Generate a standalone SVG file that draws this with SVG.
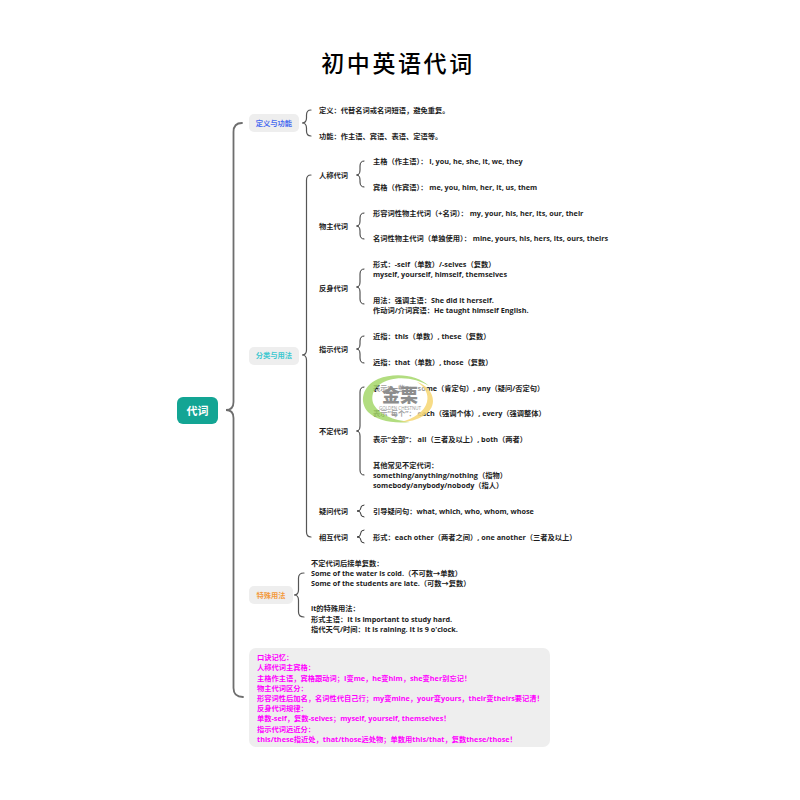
<svg xmlns="http://www.w3.org/2000/svg" width="800" height="800" viewBox="0 0 800 800">
<style>
text{font-family:"Open Sans","Noto Sans CJK SC",sans-serif;font-size:7.250px;font-weight:700;fill:#1c1c1c}
.cjk{font-family:"Noto Sans CJK SC",sans-serif}
.title{font-family:"Liberation Serif","Noto Sans CJK SC",serif;font-size:23px;font-weight:500;fill:#000;letter-spacing:2.6px;text-anchor:middle}
.mid{text-anchor:middle}
.root{font-size:11px;fill:#fff;text-anchor:middle}
.memo{fill:#f0f}
.pill{fill:#eeeeee}
.b{fill:none;stroke:#333;stroke-width:1;stroke-linecap:round}
.trunk{fill:none;stroke:#6e6e6e;stroke-width:1.800;stroke-linecap:round}
.mid2{fill:none;stroke:#555;stroke-width:1.200;stroke-linecap:round}
</style>
<rect width="800" height="800" fill="#fff"/>
<text class="title" x="398" y="72">初中英语代词</text>
<g id="connectors">
<path class="trunk" d="M242 123Q233.500 123 233.500 132V402Q233.500 410 226 410Q233.500 410 233.500 418V688Q233.500 697 243 697"/>
<path class="mid2" d="M311 110Q306.500 110 306.500 115V118Q306.500 123 302 123Q306.500 123 306.500 128V131Q306.500 136 311 136"/>
<path class="mid2" d="M311 175Q306.500 175 306.500 180V350Q306.500 355 302 355Q306.500 355 306.500 360V532Q306.500 537 311 537"/>
<path class="mid2" d="M304 573Q298.500 573 298.500 578V590Q298.500 595 294 595Q298.500 595 298.500 600V612Q298.500 617 304 617"/>
<path class="b" d="M364 161Q360 161 360 166V170Q360 175 356.500 175Q360 175 360 180V182Q360 187 364 187"/>
<path class="b" d="M364 213Q360 213 360 218V221Q360 226 356.500 226Q360 226 360 231V234Q360 239 364 239"/>
<path class="b" d="M364 269Q360 269 360 274V282Q360 287 356.500 287Q360 287 360 292V299Q360 304 364 304"/>
<path class="b" d="M364 336Q360 336 360 341V344Q360 349 356.500 349Q360 349 360 354V358Q360 363 364 363"/>
<path class="b" d="M364 387Q360 387 360 392V426Q360 431 356.500 431Q360 431 360 436V470Q360 475 364 475"/>
<path class="b" d="M364 505Q360.500 505 360.500 509Q360.500 511 357 511Q360.500 511 360.500 513Q360.500 517 364 517"/>
<path class="b" d="M364 530Q360.500 530 360.500 534Q360.500 537 357 537Q360.500 537 360.500 539Q360.500 543 364 543"/>
</g>
<g id="root"><rect x="177" y="397" width="41" height="27" rx="6" fill="#13a594"/><text class="root" x="197.500" y="415">代词</text></g>
<g id="n-def"><rect class="pill" x="249" y="114" width="50" height="18" rx="5"/><text class="mid" x="274" y="126" style="fill:#4a6cf0">定义与功能</text></g>
<g id="n-class"><rect class="pill" x="249" y="347" width="50" height="18" rx="5"/><text class="mid" x="274" y="358" style="fill:#3cc8d0">分类与用法</text></g>
<g id="n-special"><rect class="pill" x="249" y="586" width="44" height="18" rx="5"/><text class="mid" x="271" y="598" style="fill:#f39a3c">特殊用法</text></g>
<g id="n-defs"><text x="319" y="113">定义：代替名词或名词短语，避免重复。</text><text x="319" y="139">功能：作主语、宾语、表语、定语等。</text></g>
<g id="n-person"><text x="319" y="177.500">人称代词</text><text x="373" y="164">主格（作主语）： I, you, he, she, it, we, they</text><text x="373" y="190">宾格（作宾语）： me, you, him, her, it, us, them</text></g>
<g id="n-poss"><text x="319" y="229">物主代词</text><text x="373" y="215.500">形容词性物主代词（+名词）： my, your, his, her, its, our, their</text><text x="373" y="241">名词性物主代词（单独使用）： mine, yours, his, hers, its, ours, theirs</text></g>
<g id="n-refl"><text x="319" y="290.500">反身代词</text><text x="373" y="267">形式：-self（单数）/-selves（复数）</text><text x="373" y="277">myself, yourself, himself, themselves</text><text x="373" y="302.500">用法：强调主语：She did it herself.</text><text x="373" y="313">作动词/介词宾语：He taught himself English.</text></g>
<g id="n-demo"><text x="319" y="351.500">指示代词</text><text x="373" y="338.500">近指：this（单数）, these（复数）</text><text x="373" y="364.500">远指：that（单数）, those（复数）</text></g>
<g id="n-indef"><text x="319" y="434">不定代词</text><text x="373" y="390.500">表示“一些”： some（肯定句）, any（疑问/否定句）</text><text x="373" y="416">表示“每个”： each（强调个体）, every（强调整体）</text><text x="373" y="442">表示“全部”： all（三者及以上）, both（两者）</text><text x="373" y="467.500">其他常见不定代词：</text><text x="373" y="477.500">something/anything/nothing（指物）</text><text x="373" y="488">somebody/anybody/nobody（指人）</text></g>
<g id="n-inter"><text x="319" y="513.500">疑问代词</text><text x="373" y="513.500">引导疑问句：what, which, who, whom, whose</text></g>
<g id="n-recip"><text x="319" y="539.500">相互代词</text><text x="373" y="539.500">形式：each other（两者之间）, one another（三者及以上）</text></g>
<g id="n-spec"><text x="311" y="565.500">不定代词后接单复数：</text><text x="311" y="575.500">Some of the water is cold.（不可数→单数）</text><text x="311" y="585.500">Some of the students are late.（可数→复数）</text><text x="311" y="611">it的特殊用法：</text><text x="311" y="621.500">形式主语：It is important to study hard.</text><text x="311" y="631.500">指代天气/时间：It is raining. It is 9 o'clock.</text></g>
<g id="n-memo"><rect class="pill" x="249" y="648" width="301" height="99" rx="7"/>
<text class="memo" x="257" y="660">口诀记忆：</text>
<text class="memo" x="257" y="670">人称代词主宾格：</text>
<text class="memo" x="257" y="680.500">主格作主语，宾格跟动词；I变me，he变him，she变her别忘记！</text>
<text class="memo" x="257" y="690.500">物主代词区分：</text>
<text class="memo" x="257" y="700.500">形容词性后加名，名词性代自己行；my变mine，your变yours，their变theirs要记清！</text>
<text class="memo" x="257" y="711">反身代词规律：</text>
<text class="memo" x="257" y="721">单数-self，复数-selves；myself, yourself, themselves！</text>
<text class="memo" x="257" y="731.500">指示代词远近分：</text>
<text class="memo" x="257" y="741.500">this/these指近处，that/those远处物；单数用this/that，复数these/those！</text></g>
<g id="watermark">
<ellipse cx="403" cy="399" rx="29" ry="21" fill="#fff" opacity=".55"/>
<path d="M429 386C418 375 395 372 378 379C362 386 359 402 368 412C376 420 392 424 410 422C393 420 380 415 374 405C369 394 376 384 389 380C402 376 418 379 429 386Z" fill="#a5d76a" opacity=".85"/>
<path d="M400 422C418 422 433 413 433 401C433 392 426 385 417 382C425 387 429 394 427 402C425 411 414 419 400 422Z" fill="#f6d672" opacity=".85"/>
<text class="cjk" x="400" y="402" text-anchor="middle" style="font-size:18px;font-weight:900;fill:#8d8d8d;letter-spacing:0">金栗</text>
<text x="400" y="410" text-anchor="middle" style="font-size:4.500px;font-weight:400;fill:#999">GOLDEN CHESTNUT</text>
</g>
</svg>
